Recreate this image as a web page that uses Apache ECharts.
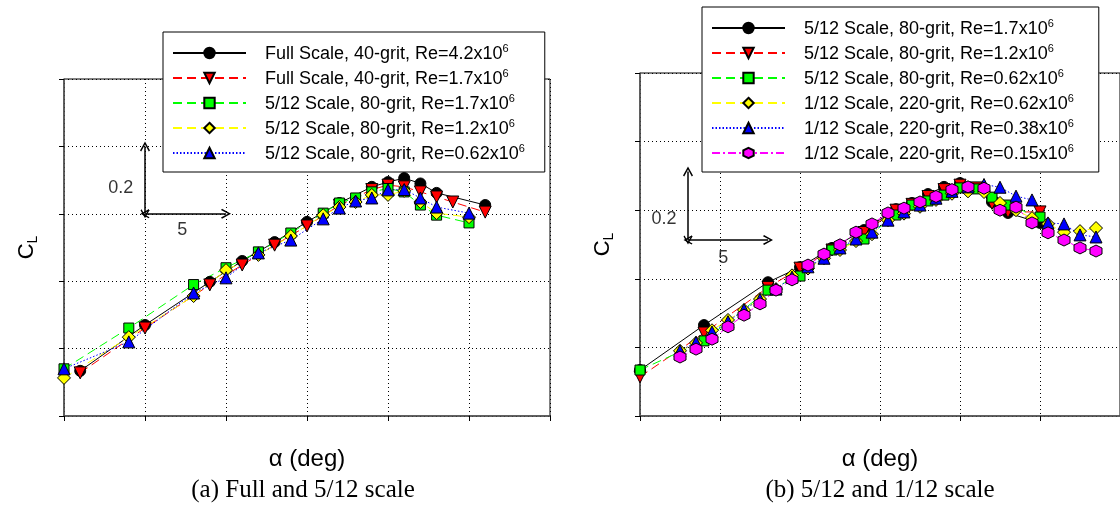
<!DOCTYPE html>
<html>
<head>
<meta charset="utf-8">
<script src="https://cdn.jsdelivr.net/npm/echarts@6.0.0/dist/echarts.min.js"></script>
<style>
  html, body { margin: 0; padding: 0; background: #fff; }
  #chart { width: 1120px; height: 506px; }
</style>
</head>
<body>
<div id="chart"></div>
<script>
  // (a) Full and 5/12 scale
  const aFullAlpha = [-4, 0, 4, 6, 8, 10, 12, 14, 15, 16, 17, 18, 21]
  const aFull42Cl = [0.134, 0.27, 0.398, 0.46, 0.516, 0.576, 0.632, 0.68, 0.694, 0.706, 0.69, 0.662, 0.626]
  const aFull17Alpha = [-4, 0, 4, 6, 8, 10, 12, 14, 15, 16, 17, 18, 19, 21]
  const aFull17Cl = [0.128, 0.261, 0.389, 0.448, 0.507, 0.564, 0.625, 0.672, 0.685, 0.68, 0.665, 0.65, 0.635, 0.605]
  const aScaleAlpha = [-5, -1, 3, 5, 7, 9, 11, 12, 13, 14, 15, 16, 17, 18, 20]
  const aScale17Cl = [0.14, 0.261, 0.39, 0.44, 0.487, 0.543, 0.602, 0.632, 0.647, 0.665, 0.675, 0.665, 0.626, 0.596, 0.573]
  const aScale12Cl = [0.113, 0.234, 0.356, 0.433, 0.478, 0.534, 0.596, 0.62, 0.635, 0.656, 0.656, 0.668, 0.635, 0.602, 0.59]
  const aScale062Cl = [0.14, 0.22, 0.365, 0.41, 0.484, 0.522, 0.585, 0.617, 0.638, 0.647, 0.671, 0.672, 0.647, 0.62, 0.602]

  // (b) 5/12 and 1/12 scale
  const bScaleAlpha = [-5, -1, 3, 5, 7, 9, 11, 12, 13, 14, 15, 16, 17, 18, 20]
  const bScale17Cl = [0.134, 0.265, 0.39, 0.434, 0.49, 0.542, 0.603, 0.621, 0.647, 0.668, 0.679, 0.665, 0.624, 0.592, 0.563]
  const bScale12Cl = [0.114, 0.242, 0.375, 0.431, 0.484, 0.535, 0.6, 0.617, 0.64, 0.66, 0.673, 0.665, 0.62, 0.595, 0.595]
  const bScale062Cl = [0.134, 0.219, 0.367, 0.408, 0.484, 0.516, 0.586, 0.615, 0.627, 0.644, 0.665, 0.662, 0.638, 0.615, 0.58]
  const bSmallAlpha = [-2.5, -1.5, -0.5, 0.5, 1.5, 2.5, 3.5, 4.5, 5.5, 6.5, 7.5, 8.5, 9.5, 10.5, 11.5, 12.5, 13.5, 14.5, 15.5, 16.5, 17.5, 18.5, 19.5, 20.5, 21.5, 22.5, 23.5]
  const bSmall062Cl = [0.19, 0.213, 0.25, 0.28, 0.309, 0.341, 0.37, 0.41, 0.43, 0.46, 0.484, 0.51, 0.53, 0.571, 0.59, 0.61, 0.63, 0.648, 0.655, 0.653, 0.621, 0.6, 0.577, 0.56, 0.536, 0.539, 0.548]
  const bSmall038Cl = [0.19, 0.215, 0.245, 0.275, 0.31, 0.34, 0.37, 0.405, 0.435, 0.46, 0.49, 0.516, 0.536, 0.571, 0.595, 0.615, 0.635, 0.655, 0.668, 0.675, 0.667, 0.641, 0.63, 0.563, 0.56, 0.528, 0.522]
  const bSmall015Cl = [0.172, 0.195, 0.224, 0.26, 0.294, 0.327, 0.367, 0.397, 0.44, 0.472, 0.499, 0.536, 0.56, 0.592, 0.606, 0.624, 0.64, 0.66, 0.668, 0.664, 0.6, 0.609, 0.563, 0.534, 0.513, 0.49, 0.481]

  // scale arrows: origin [alpha, CL], lengths
  const aArrowOrigin = [0, 0.6]
  const bArrowOrigin = [-2, 0.513]
  const arrowDx = 5
  const arrowDy = 0.2

  const alphaMin = -5, alphaMax = 25, alphaStep = 5
  const clMin = 0, clMax = 1, clStep = 0.2

  const chart = echarts.init(document.getElementById('chart'))

  const sans = 'Liberation Sans, Arial, sans-serif'
  const chevron = 'path://M5,0 L10,9 L8.8,10 L5,3 L1.2,10 L0,9 Z'
  const hexagon = 'path://M5,0 L9.5,2.6 L9.5,7.8 L5,10.4 L0.5,7.8 L0.5,2.6 Z'

  function pts (xs, ys) {
    return xs.map((x, i) => [x, ys[i]])
  }

  function mkSeries (name, gi, xs, ys, color, dash, symbol, size, rotate) {
    return {
      name: name,
      type: 'line',
      xAxisIndex: gi,
      yAxisIndex: gi,
      data: pts(xs, ys),
      symbol: symbol,
      symbolSize: size,
      symbolRotate: rotate || 0,
      showAllSymbol: true,
      clip: false,
      animation: false,
      lineStyle: { color: color, width: 1, type: dash },
      itemStyle: { color: color, borderColor: '#000', borderWidth: 1 }
    }
  }

  const DASH = [9, 5]
  const DOT = [1.5, 2]
  const DASHDOT = [8, 3, 2, 3]

  const seriesA = [
    mkSeries('Full Scale, 40-grit, Re=4.2x10^6 (a)', 0, aFullAlpha, aFull42Cl, '#000000', 'solid', 'circle', 11),
    mkSeries('Full Scale, 40-grit, Re=1.7x10^6 (a)', 0, aFull17Alpha, aFull17Cl, '#ff0000', DASH, 'triangle', 12, 180),
    mkSeries('5/12 Scale, 80-grit, Re=1.7x10^6 (a)', 0, aScaleAlpha, aScale17Cl, '#00ff00', DASH, 'rect', 10),
    mkSeries('5/12 Scale, 80-grit, Re=1.2x10^6 (a)', 0, aScaleAlpha, aScale12Cl, '#ffff00', DASH, 'diamond', 13),
    mkSeries('5/12 Scale, 80-grit, Re=0.62x10^6 (a)', 0, aScaleAlpha, aScale062Cl, '#0000ff', DOT, 'triangle', 12)
  ]
  const seriesB = [
    mkSeries('5/12 Scale, 80-grit, Re=1.7x10^6 (b)', 1, bScaleAlpha, bScale17Cl, '#000000', 'solid', 'circle', 11),
    mkSeries('5/12 Scale, 80-grit, Re=1.2x10^6 (b)', 1, bScaleAlpha, bScale12Cl, '#ff0000', DASH, 'triangle', 12, 180),
    mkSeries('5/12 Scale, 80-grit, Re=0.62x10^6 (b)', 1, bScaleAlpha, bScale062Cl, '#00ff00', DASH, 'rect', 10),
    mkSeries('1/12 Scale, 220-grit, Re=0.62x10^6 (b)', 1, bSmallAlpha, bSmall062Cl, '#ffff00', DASH, 'diamond', 13),
    mkSeries('1/12 Scale, 220-grit, Re=0.38x10^6 (b)', 1, bSmallAlpha, bSmall038Cl, '#0000ff', DOT, 'triangle', 12),
    mkSeries('1/12 Scale, 220-grit, Re=0.15x10^6 (b)', 1, bSmallAlpha, bSmall015Cl, '#ff00ff', DASHDOT, hexagon, 12)
  ]

  function arrowSeries (gi, o) {
    return [{
      type: 'lines',
      coordinateSystem: 'cartesian2d',
      xAxisIndex: gi,
      yAxisIndex: gi,
      symbol: [chevron, chevron],
      symbolSize: [9, 10],
      silent: true,
      animation: false,
      z: 4,
      lineStyle: { color: '#000', width: 1.5, opacity: 1, curveness: 0 },
      data: [
        { coords: [o, [o[0], o[1] + arrowDy]] },
        { coords: [o, [o[0] + arrowDx, o[1]]] }
      ]
    }]
  }

  function arrowLabels (gi, items) {
    return {
      type: 'scatter',
      xAxisIndex: gi,
      yAxisIndex: gi,
      symbolSize: 0,
      silent: true,
      animation: false,
      data: items,
      label: {
        show: true,
        position: 'inside',
        formatter: p => p.data[2],
        fontFamily: sans,
        fontSize: 18,
        color: '#000'
      }
    }
  }

  function legendFmt (name) {
    const parts = name.replace(/ \([ab]\)$/, '').split('^')
    return '{b|' + parts[0] + '}{s|' + parts[1] + '}'
  }

  function mkLegend (series, left, top, padding, gap) {
    return {
      data: series.map(s => s.name),
      orient: 'vertical',
      left: left,
      top: top,
      padding: padding,
      itemGap: gap,
      itemWidth: 73,
      itemHeight: 13,
      selectedMode: false,
      backgroundColor: '#fff',
      borderColor: '#000',
      borderWidth: 1,
      formatter: legendFmt,
      textStyle: {
        fontFamily: sans,
        color: '#000',
        padding: [0, 0, 0, 14],
        rich: {
          b: { fontFamily: sans, fontSize: 18, lineHeight: 20, color: '#000', verticalAlign: 'bottom' },
          s: { fontFamily: sans, fontSize: 11, lineHeight: 11, color: '#000', verticalAlign: 'top' }
        }
      }
    }
  }

  function mkX (gi) {
    return {
      gridIndex: gi,
      type: 'value',
      min: alphaMin,
      max: alphaMax,
      interval: alphaStep,
      name: 'α (deg)',
      nameLocation: 'middle',
      nameGap: 31,
      nameTextStyle: { fontFamily: sans, fontSize: 24, color: '#000' },
      axisLabel: { show: false },
      axisTick: { show: true, inside: false, length: 5, lineStyle: { color: '#000' } },
      axisLine: { show: true, onZero: false, lineStyle: { color: '#555', width: 1.5 } },
      splitLine: { show: true, lineStyle: { color: '#000', width: 1, type: [1, 3] } }
    }
  }

  function mkY (gi) {
    return {
      gridIndex: gi,
      type: 'value',
      min: clMin,
      max: clMax,
      interval: clStep,
      name: '{c|C}{l|L}',
      nameLocation: 'middle',
      nameRotate: 90,
      nameGap: 24,
      nameTextStyle: {
        rich: {
          c: { fontFamily: sans, fontSize: 22, lineHeight: 24, color: '#000', verticalAlign: 'top' },
          l: { fontFamily: sans, fontSize: 14, lineHeight: 14, color: '#000', verticalAlign: 'bottom' }
        }
      },
      axisLabel: { show: false },
      axisTick: { show: true, inside: false, length: 5, lineStyle: { color: '#000' } },
      axisLine: { show: true, onZero: false, lineStyle: { color: '#555', width: 1.5 } },
      splitLine: { show: true, lineStyle: { color: '#000', width: 1, type: [1, 3] } }
    }
  }

  const option = {
    backgroundColor: '#fff',
    animation: false,
    grid: [
      { left: 64, top: 79, width: 486, height: 337, show: true, borderColor: '#000', borderWidth: 1 },
      { left: 640, top: 73, width: 491, height: 343, show: true, borderColor: '#000', borderWidth: 1 }
    ],
    xAxis: [mkX(0), mkX(1)],
    yAxis: [mkY(0), mkY(1)],
    legend: [
      mkLegend(seriesA, 163, 32, [11, 20, 9, 9], 5),
      mkLegend(seriesB, 702, 7, [11, 25, 9, 9], 5)
    ],
    graphic: [
      { type: 'text', x: 303, y: 490, style: { text: '(a) Full and 5/12 scale', font: '25px "Liberation Serif", "Times New Roman", serif', fill: '#000', align: 'center', verticalAlign: 'middle' } },
      { type: 'text', x: 880, y: 490, style: { text: '(b) 5/12 and 1/12 scale', font: '25px "Liberation Serif", "Times New Roman", serif', fill: '#000', align: 'center', verticalAlign: 'middle' } }
    ],
    series: [].concat(
      seriesA,
      seriesB,
      arrowSeries(0, aArrowOrigin),
      arrowSeries(1, bArrowOrigin),
      [arrowLabels(0, [[-1.5, 0.675, '0.2'], [2.3, 0.552, '5']]),
       arrowLabels(1, [[-3.5, 0.575, '0.2'], [0.2, 0.46, '5']])]
    )
  }

  chart.setOption(option)
</script>
</body>
</html>
